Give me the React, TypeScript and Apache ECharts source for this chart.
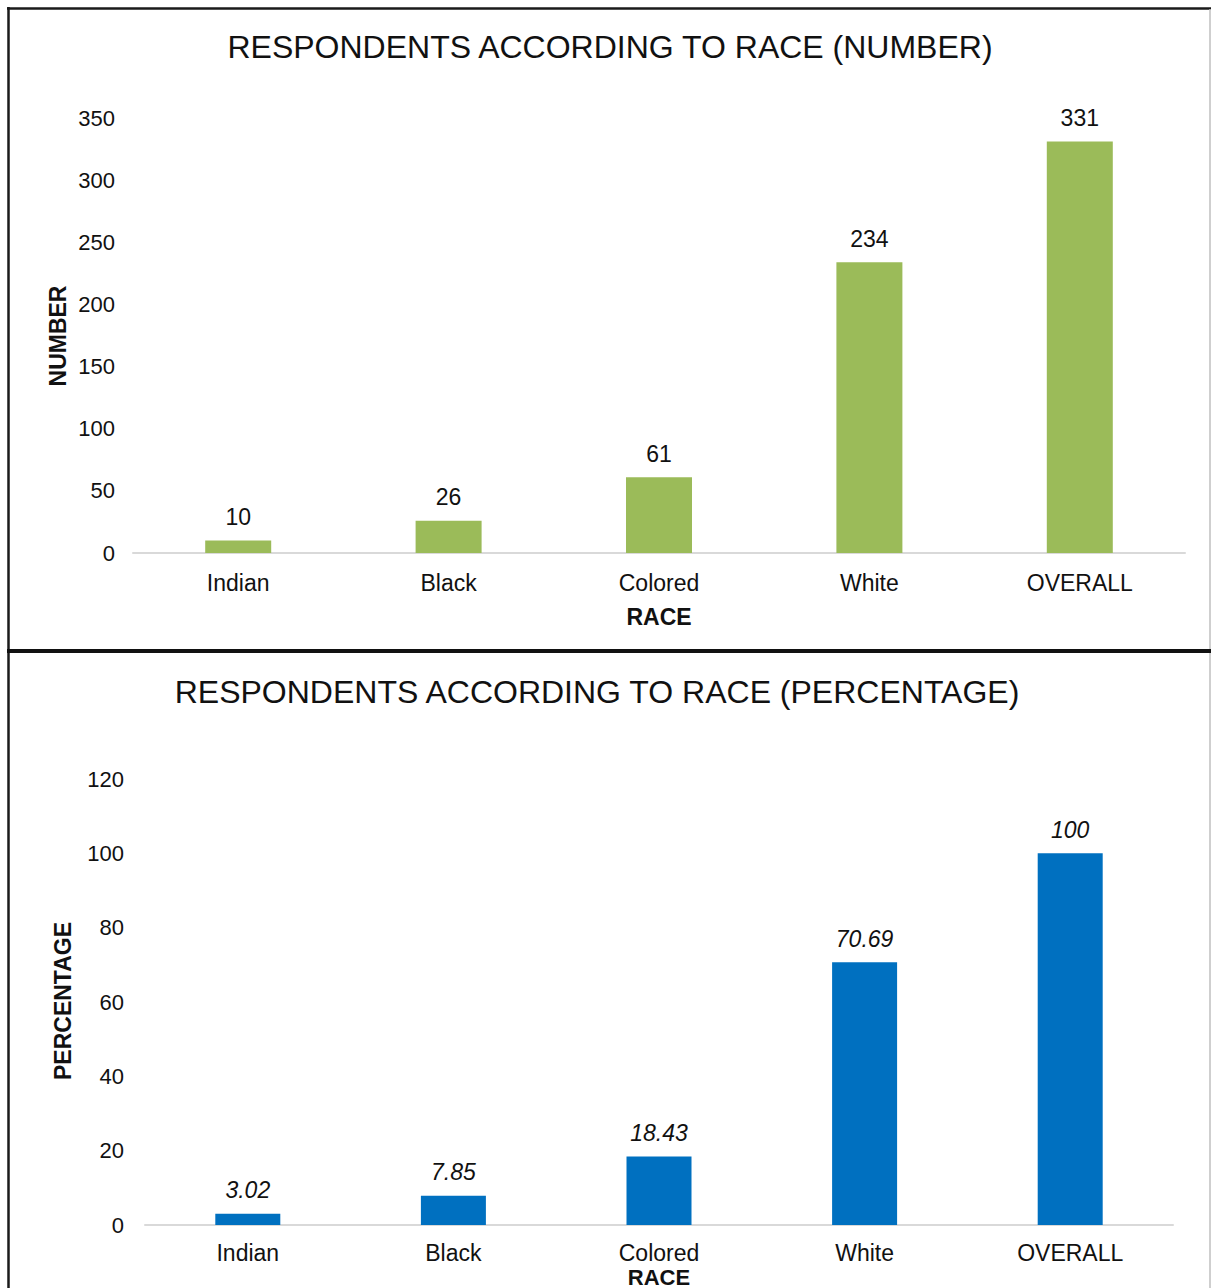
import React, { useEffect, useRef } from "react";
import * as echarts from "echarts";

const categories = ["Indian", "Black", "Colored", "White", "OVERALL"];
const counts = [10, 26, 61, 234, 331];
const percentages = [3.02, 7.85, 18.43, 70.69, 100];
const countAxis = { min: 0, max: 350, interval: 50 };
const pctAxis = { min: 0, max: 120, interval: 20 };
const titles = [
  "RESPONDENTS ACCORDING TO RACE (NUMBER)",
  "RESPONDENTS ACCORDING TO RACE (PERCENTAGE)",
];
const xName = "RACE";
const yNames = ["NUMBER", "PERCENTAGE"];

const FONT = "'Liberation Sans', Arial, Helvetica, sans-serif";
const TXT = "#111";

export default function App() {
  const ref = useRef<HTMLDivElement>(null);
  useEffect(() => {
    if (!ref.current) return;
    const chart = echarts.init(ref.current, null, { renderer: "svg" });
    const axisLine = { show: true, lineStyle: { color: "#D9D9D9", width: 2 } };
    const catAxis = (gridIndex: number, margin: number, lineHeight?: number) => ({
      type: "category",
      gridIndex,
      data: categories,
      axisLine,
      axisTick: { show: false },
      axisLabel: {
        color: TXT,
        fontSize: 23,
        fontFamily: FONT,
        margin,
        interval: 0,
        ...(lineHeight ? { lineHeight } : {}),
      },
      splitLine: { show: false },
    });
    const valAxis = (gridIndex: number, cfg: any, margin: number) => ({
      type: "value",
      gridIndex,
      ...cfg,
      axisLine: { show: false },
      axisTick: { show: false },
      splitLine: { show: false },
      axisLabel: { color: TXT, fontSize: 22, fontFamily: FONT, margin },
    });
    const text = (t: string, x: number, y: number, size: number, bold: boolean, rot = 0, lh?: number) => ({
      type: "text",
      x,
      y,
      rotation: rot,
      style: {
        text: t,
        fill: TXT,
        font: `${bold ? "bold " : ""}${size}px ${FONT}`,
        textAlign: "center",
        textVerticalAlign: "middle",
        ...(lh ? { lineHeight: lh } : {}),
      },
    });
    chart.setOption({
      animation: false,
      backgroundColor: "#fff",
      grid: [
        { left: 133, width: 1052, top: 118, height: 435 },
        { left: 145, width: 1028, top: 779, height: 446 },
      ],
      xAxis: [catAxis(0, 18), catAxis(1, 18, 20)],
      yAxis: [valAxis(0, countAxis, 18), valAxis(1, pctAxis, 21)],
      series: [
        {
          type: "bar",
          xAxisIndex: 0,
          yAxisIndex: 0,
          data: counts,
          barWidth: 66,
          itemStyle: { color: "#9BBB59" },
          label: { show: true, position: "top", distance: 12, color: TXT, fontSize: 23, fontFamily: FONT },
        },
        {
          type: "bar",
          xAxisIndex: 1,
          yAxisIndex: 1,
          data: percentages,
          barWidth: 65,
          itemStyle: { color: "#0070C0" },
          label: {
            show: true,
            position: "top",
            distance: 12,
            color: TXT,
            fontSize: 23,
            fontStyle: "italic",
            fontFamily: FONT,
          },
        },
      ],
      graphic: [
        { type: "line", shape: { x1: 7, y1: 8.5, x2: 1211, y2: 8.5 }, style: { stroke: "#1a1a1a", lineWidth: 2.5 } },
        { type: "line", shape: { x1: 8.5, y1: 7, x2: 8.5, y2: 1288 }, style: { stroke: "#1a1a1a", lineWidth: 2.5 } },
        { type: "line", shape: { x1: 1210, y1: 9, x2: 1210, y2: 1288 }, style: { stroke: "#bfbfbf", lineWidth: 1.5 } },
        { type: "line", shape: { x1: 7, y1: 651, x2: 1211, y2: 651 }, style: { stroke: "#111", lineWidth: 4 } },
        text(titles[0], 610, 47, 32, false),
        text(titles[1], 597, 692, 32, false),
        text(xName, 659, 617, 23, true),
        text(xName, 659, 1277, 22, true, 0, 16),
        text(yNames[0], 58, 336, 23, true, Math.PI / 2),
        text(yNames[1], 63, 1001, 23, true, Math.PI / 2),
      ],
    });
    return () => chart.dispose();
  }, []);
  return (
    <div
      ref={ref}
      style={{ position: "absolute", left: 0, top: 0, width: 1211, height: 1288, background: "#fff" }}
    />
  );
}
